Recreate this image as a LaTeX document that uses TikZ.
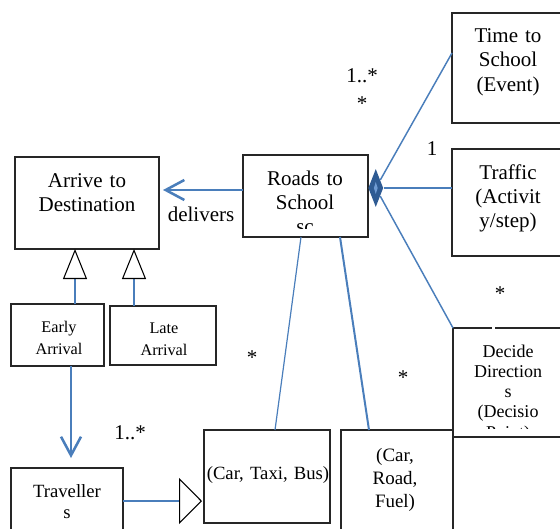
\documentclass[tikz,border=0pt]{standalone}
\usepackage{fontspec}
\setmainfont{Liberation Serif}
\usetikzlibrary{arrows.meta,shapes.geometric,fit,calc}

\definecolor{umlblue}{HTML}{4A7EBB}
\definecolor{diablue}{HTML}{2F5B93}
\definecolor{dialight}{HTML}{6F9BD3}

% text sizes used in the class boxes
\newcommand\umlbig{\fontsize{15.75pt}{18pt}\selectfont}
\newcommand\umldec{\fontsize{13.5pt}{15.2pt}\selectfont}
\newcommand\umltrav{\fontsize{14pt}{15.75pt}\selectfont}
\newcommand\umlcar{\fontsize{14.2pt}{17.6pt}\selectfont}
\newcommand\umlsmall{\fontsize{12.2pt}{16.5pt}\selectfont}

\begin{document}
\begin{tikzpicture}[x=0.75pt,y=-0.75pt,
  box/.style={draw=black!85, line width=0.9pt, inner sep=0pt, outer sep=0pt},
  txt/.style={anchor=base, inner sep=0pt, align=center, text width=100pt},
  mult/.style={anchor=base, inner sep=0pt, font=\umlbig},
  link/.style={draw=umlblue, line width=1.1pt},
  flow/.style={draw=umlblue, line width=1.9pt,
    -{Straight Barb[length=14pt, width=15pt, line width=1.9pt]}},
  gen/.style={draw=umlblue, line width=1.5pt,
    -{Triangle[length=22.5pt, width=18pt, fill=white, color=black, line width=0.8pt]}},
  genwide/.style={draw=umlblue, line width=1.5pt,
    -{Triangle[length=17.25pt, width=34.5pt, fill=white, color=black, line width=0.8pt]}}]

\useasboundingbox (0,0) rectangle (560,528);
\clip (0,0) rectangle (560,528);

% class boxes
\node[box, fit={(452,13) (562,123)}] (time) {};
\node[box, fit={(452,149) (562,256)}] (traffic) {};
\node[box, fit={(453,328) (562,437)}] (decide) {};
\node[box, fit={(453,437) (562,540)}] (lower) {};
\node[box, fit={(243,155) (368,237)}] (roads) {};
\node[box, fit={(15,157) (159,249)}] (arrive) {};
\node[box, fit={(11,304) (104,366)}] (early) {};
\node[box, fit={(110,306) (216,365)}] (late) {};
\node[box, fit={(11,468) (123,540)}] (trav) {};
\node[box, fit={(204,430) (330,523)}] (ctb) {};
\node[box, fit={(341,430) (453,540)}] (crf) {};

% small break in the top edge of the decision box
\fill[white] (491.5,326) rectangle (494.5,330);

% box texts
\node[txt, font=\umlbig] (timeT) at (508,43) {Time to\\School\\(Event)};
\node[txt, font=\umlbig] (trafficT) at (508,179) {Traffic\\(Activit\\y/step)};
\begin{scope}
  \clip (453,328) rectangle (562,428);
  \node[txt, font=\umldec] (decideT) at (508,357) {Decide\\Direction\\s\\(Decisio\\Point)};
\end{scope}
\begin{scope}
  \clip (243,155) rectangle (368,228);
  \node[txt, font=\umlbig] (roadsT) at (305,185) {Roads to\\School\\sc};
\end{scope}
\node[txt, font=\umlbig] (arriveT) at (87,187) {Arrive to\\Destination};
\node[txt, font=\umlsmall] (earlyT) at (59,332) {Early\\Arrival};
\node[txt, font=\umlsmall] (lateT) at (164,333) {Late\\Arrival};
\node[txt, font=\umltrav] (travT) at (67,497) {Traveller\\s};
\node[txt, font=\umltrav, text width=140pt] (ctbT) at (268,479) {(Car, Taxi, Bus)};
\node[txt, font=\umlcar] (crfT) at (395,461) {(Car,\\Road,\\Fuel)};

% composition diamond on the right side of the central class
\node[diamond, fill=diablue, minimum width=11.25pt, minimum height=28.5pt,
      inner sep=0pt, anchor=west] (dia) at (368,188) {};
\node[diamond, fill=dialight, minimum width=3pt, minimum height=9pt,
      inner sep=0pt] (diaglow) at (dia.center) {};

% connectors
\draw[link] (dia) -- (time.west |- 0,53);
\draw[link] (dia.east) -- (traffic.west |- dia.east);
\draw[link] (dia) -- (decide.north west);
\draw[link, line width=0.9pt] ($(roads.south)+(-4.5,0)$) -- ($(ctb.north)+(8,0)$);
\draw[link, line width=1.5pt] ($(roads.south)+(34.5,0)$) -- ($(crf.north)+(-28,0)$);

\draw[flow, shorten >=3pt] (roads.west |- 0,190) -- (arrive.east |- 0,190);
\draw[flow, shorten >=7.5pt] (early.south -| 71,0) -- (trav.north -| 71,0);

\draw[gen] (early.north -| 75,0) -- (arrive.south -| 75,0);
\draw[gen] (late.north -| 134,0) -- (arrive.south -| 134,0);
\draw[genwide, shorten >=1.5pt] (trav.east |- 0,501) -- (ctb.west |- 0,501);

% labels and multiplicities
\node[mult] (deliv) at (201,221) {delivers};
\node[mult] (mTimeA) at (362,83) {1..*};
\node[mult] (mTimeB) at (362,110) {*};
\node[mult] (mTraffic) at (432,155) {1};
\node[mult] (mDecide) at (500,300) {*};
\node[mult] (mCtb) at (252,364) {*};
\node[mult] (mCrf) at (403,384) {*};
\node[mult] (mTrav) at (130,439) {1..*};
\end{tikzpicture}
\end{document}
